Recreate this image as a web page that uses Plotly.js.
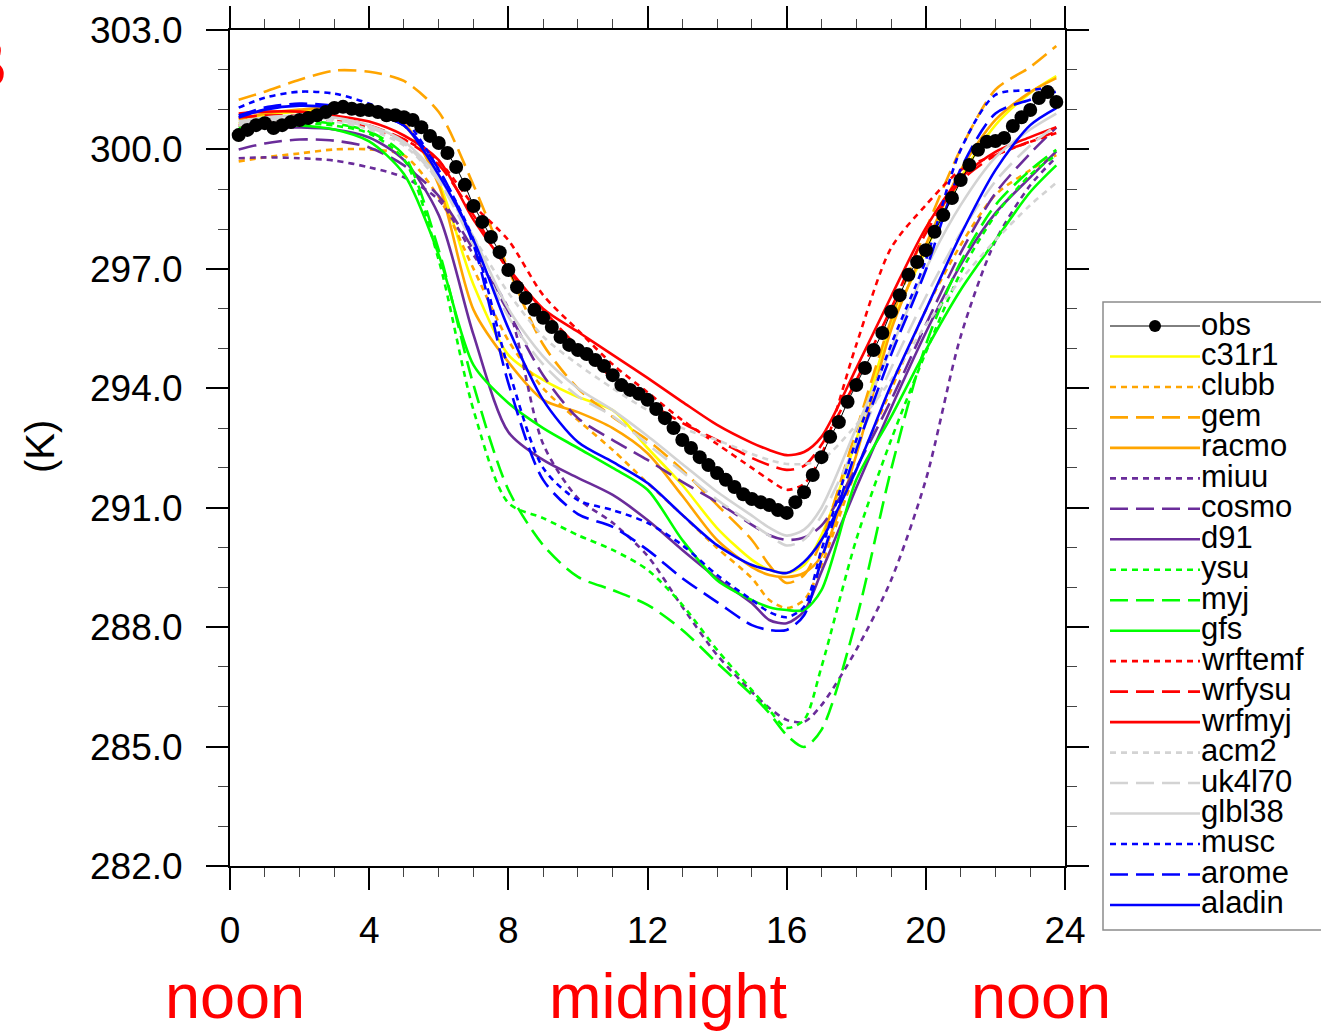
<!DOCTYPE html>
<html><head><meta charset="utf-8">
<script src="https://cdn.plot.ly/plotly-3.0.1.min.js"></script>
<style>html,body{margin:0;padding:0;background:#fff}</style>
</head><body>
<div id="chart" style="width:1321px;height:1031px"></div>
<script>
// ---------------- DATA ----------------
const modelHours = [0.25,1,2,3,4,5,6,7,8,9,10,11,12,13,14,15,15.5,16,16.5,17,18,19,20,21,22,23,23.75];

const c31r1  = [300.65,300.85,300.95,301.0,300.9,300.6,299.18,296.6,294.84,294.21,293.78,293.45,292.5,291.57,290.49,289.69,289.44,289.36,289.56,290.31,292.7,295.59,297.47,299.28,300.61,301.42,301.84];
const clubb  = [299.7,299.8,299.9,300.0,300.0,299.85,298.8,297.0,295.2,294.0,293.2,292.45,291.62,290.82,289.99,289.23,288.68,288.48,288.68,289.56,291.95,293.96,295.97,297.6,298.86,299.48,299.86];
const gem    = [301.25,301.45,301.75,301.98,301.95,301.72,300.94,299.1,297.0,295.1,294.0,293.28,292.7,291.95,291.07,290.19,289.56,289.11,289.31,290.19,292.95,295.72,297.98,300.0,301.5,302.07,302.6];
const racmo  = [300.75,300.9,301.0,301.05,300.95,300.65,299.1,295.97,294.66,293.71,293.4,293.0,292.37,291.3,290.19,289.51,289.31,289.26,289.36,289.79,292.32,295.46,297.6,299.48,300.74,301.44,301.79];
const miuu   = [299.78,299.8,299.78,299.72,299.55,299.3,298.73,297.35,296.0,292.6,291.24,290.62,289.79,288.51,287.3,286.37,285.97,285.67,285.62,286.04,287.43,289.18,291.7,295.3,297.7,299.1,299.8];
const cosmo  = [300.0,300.15,300.25,300.22,300.05,299.6,298.83,297.47,295.92,294.33,293.25,292.7,292.2,291.65,291.14,290.57,290.31,290.19,290.25,290.55,292.0,293.7,295.6,297.4,298.9,299.9,300.55];
const d91    = [300.45,300.55,300.55,300.5,300.3,299.73,298.35,295.34,292.9,292.2,291.75,291.32,290.69,289.94,289.23,288.6,288.18,288.1,288.4,289.39,291.5,293.5,295.4,297.1,298.4,299.3,299.95];
const ysu    = [300.5,300.6,300.65,300.6,300.4,299.75,297.22,293.45,291.12,290.74,290.31,289.94,289.44,288.56,287.43,286.42,285.92,285.47,285.67,287.0,290.2,292.7,294.9,296.9,298.35,299.36,299.86];
const myj    = [300.55,300.65,300.7,300.65,300.45,299.85,297.47,294.08,291.45,290.06,289.26,288.93,288.56,287.93,287.1,286.3,285.84,285.29,284.99,285.42,288.18,291.95,295.09,297.17,298.6,299.48,299.99];
const gfs    = [300.5,300.6,300.6,300.5,300.2,299.38,297.35,294.58,293.63,293.0,292.5,292.0,291.45,290.19,289.18,288.68,288.5,288.43,288.43,288.93,291.7,293.28,294.96,296.47,297.72,298.93,299.6];
const wrftemf= [300.6,300.7,300.75,300.72,300.55,300.25,299.7,298.6,297.72,296.34,295.46,294.6,293.9,293.2,292.6,292.0,291.7,291.45,291.6,292.32,295.09,297.52,298.6,299.48,299.86,300.19,300.41];
const wrfysu = [300.8,300.85,300.85,300.8,300.6,300.25,299.61,298.35,296.97,295.97,295.04,294.26,293.66,293.13,292.7,292.25,292.07,291.95,292.05,292.58,294.2,296.0,297.9,299.2,299.85,300.2,300.45];
const wrfmyj = [300.9,300.95,300.95,300.85,300.7,300.35,299.73,298.23,297.02,296.0,295.42,294.84,294.26,293.66,293.08,292.63,292.45,292.32,292.4,292.78,294.5,296.3,298.03,299.28,299.94,300.31,300.56];
const acm2   = [300.6,300.7,300.75,300.7,300.5,300.1,299.2,297.8,296.4,295.3,294.6,294.0,293.45,293.0,292.7,292.35,292.2,292.1,292.1,292.2,293.08,294.21,295.59,296.72,297.72,298.6,299.16];
const uk4l70 = [300.65,300.75,300.8,300.75,300.55,300.15,299.2,297.6,295.8,294.6,293.8,293.3,292.6,291.9,291.2,290.6,290.3,290.05,290.2,290.8,292.6,294.5,296.3,297.9,299.2,300.1,300.6];
const glbl38 = [300.7,300.8,300.85,300.8,300.6,300.2,299.3,297.8,296.0,294.8,294.0,293.45,292.8,292.1,291.4,290.8,290.5,290.3,290.45,291.0,293.0,295.0,297.0,298.6,299.8,300.5,300.9];
const musc   = [301.05,301.3,301.45,301.4,301.15,300.75,299.48,297.72,294.5,292.0,291.19,290.94,290.62,290.06,289.31,288.68,288.38,288.25,288.51,289.94,292.7,295.09,297.22,299.99,301.37,301.49,301.57];
const arome  = [300.85,301.05,301.15,301.1,300.95,300.6,299.5,297.6,294.13,291.7,290.84,290.52,289.94,289.23,288.63,288.05,287.93,287.93,288.3,289.69,292.45,294.84,296.97,299.5,300.9,301.25,301.45];
const aladin = [300.8,301.0,301.1,301.05,300.9,300.6,299.36,297.72,295.51,293.71,292.65,292.15,291.62,290.82,290.06,289.56,289.44,289.36,289.64,290.19,291.95,294.08,295.97,297.85,299.48,300.61,301.04];

const obsHours = [0.25,0.5,0.75,1,1.25,1.5,1.75,2,2.25,2.5,2.75,3,3.25,3.5,3.75,4,4.25,4.5,4.75,5,5.25,5.5,5.75,6,6.25,6.5,6.75,7,7.25,7.5,7.75,8,8.25,8.5,8.75,9,9.25,9.5,9.75,10,10.25,10.5,10.75,11,11.25,11.5,11.75,12,12.25,12.5,12.75,13,13.25,13.5,13.75,14,14.25,14.5,14.75,15,15.25,15.5,15.75,16,16.25,16.5,16.75,17,17.25,17.5,17.75,18,18.25,18.5,18.75,19,19.25,19.5,19.75,20,20.25,20.5,20.75,21,21.25,21.5,21.75,22,22.25,22.5,22.75,23,23.25,23.5,23.75];
const obsTemp = [300.36,300.49,300.61,300.66,300.54,300.61,300.69,300.74,300.79,300.86,300.94,301.04,301.07,301.02,300.99,300.99,300.94,300.86,300.86,300.81,300.74,300.56,300.34,300.16,299.91,299.56,299.11,298.58,298.18,297.8,297.42,296.97,296.54,296.27,295.97,295.77,295.54,295.29,295.09,294.96,294.86,294.71,294.56,294.33,294.08,293.96,293.86,293.71,293.48,293.25,293.0,292.7,292.5,292.27,292.07,291.87,291.7,291.52,291.34,291.22,291.14,291.07,290.94,290.87,291.14,291.39,291.82,292.27,292.78,293.15,293.66,294.08,294.51,294.96,295.39,295.92,296.34,296.85,297.17,297.47,297.93,298.35,298.78,299.23,299.61,299.99,300.19,300.21,300.29,300.59,300.81,300.99,301.29,301.44,301.19];

const seriesNames  = ['c31r1','clubb','gem','racmo','miuu','cosmo','d91','ysu','myj','gfs','wrftemf','wrfysu','wrfmyj','acm2','uk4l70','glbl38','musc','arome','aladin'];
const seriesValues = [c31r1,clubb,gem,racmo,miuu,cosmo,d91,ysu,myj,gfs,wrftemf,wrfysu,wrfmyj,acm2,uk4l70,glbl38,musc,arome,aladin];
const seriesColors = ['#FFFF00','#FFA500','#FFA500','#FFA500','#6A2C9A','#6A2C9A','#6A2C9A','#00FF00','#00FF00','#00FF00','#FF0000','#FF0000','#FF0000','#D3D3D3','#D3D3D3','#D3D3D3','#0000FF','#0000FF','#0000FF'];
const seriesStyle  = ['solid','dot','dash','solid','dot','dash','solid','dot','dash','solid','dot','dash','solid','dot','dash','solid','dot','dash','solid'];
const tickLabelsX = ['0','4','8','12','16','20','24'];
const periodLabels = ['noon','midnight','noon'];
const periodHours = [0.15, 12.6, 23.3];

// ---------------- STYLE ----------------
const DASH = {solid:'solid', dot:'6px,5px', dash:'18px,8px'};
const FONT = 'Liberation Sans, Arial, Helvetica, sans-serif';
const W = 1321, H = 1031, L = 230, R = 256, T = 30, B = 165;
const pw = W - L - R, ph = H - T - B;
const px2x = p => (p - L) / pw;
const py2y = p => 1 - (p - T) / ph;

const traces = seriesNames.map((n, i) => ({
  x: modelHours, y: seriesValues[i], name: n, mode: 'lines', type: 'scatter',
  line: {color: seriesColors[i], width: 2.6, dash: DASH[seriesStyle[i]], shape: 'spline', smoothing: 0.8},
  showlegend: false, hoverinfo: 'skip'
}));
traces.push({
  x: obsHours, y: obsTemp, name: 'obs', mode: 'lines+markers', type: 'scatter',
  line: {color: '#000', width: 1}, marker: {color: '#000', size: 14},
  showlegend: false, hoverinfo: 'skip'
});

// legend drawn manually (NCL-style compact legend)
const shapes = [];
const annotations = [];
shapes.push({type: 'rect', xref: 'paper', yref: 'paper', x0: px2x(1103), x1: px2x(1340), y0: py2y(930), y1: py2y(302),
  line: {color: '#8c8c8c', width: 1.5}, fillcolor: 'rgba(0,0,0,0)'});
const legNames = ['obs'].concat(seriesNames);
const rowY = i => 326 + i * 30.47;
legNames.forEach((n, i) => {
  const y = py2y(rowY(i));
  if (i === 0) {
    shapes.push({type: 'line', xref: 'paper', yref: 'paper', x0: px2x(1110), x1: px2x(1200), y0: y, y1: y, line: {color: '#000', width: 1}});
    shapes.push({type: 'circle', xref: 'paper', yref: 'paper', xsizemode: 'pixel', ysizemode: 'pixel',
      xanchor: px2x(1155), yanchor: y, x0: -6, x1: 6, y0: -6, y1: 6, fillcolor: '#000', line: {color: '#000', width: 0}});
  } else {
    const k = i - 1;
    shapes.push({type: 'line', xref: 'paper', yref: 'paper', x0: px2x(1110), x1: px2x(1200), y0: y, y1: y,
      line: {color: seriesColors[k], width: 2.6, dash: DASH[seriesStyle[k]]}});
  }
  annotations.push({xref: 'paper', yref: 'paper', x: px2x(1200), y: py2y(rowY(i) - 2), xanchor: 'left', yanchor: 'middle',
    text: n, showarrow: false, borderpad: 0, font: {family: FONT, size: 31, color: '#000'}});
});

// y-axis title and red period labels
annotations.push({xref: 'paper', yref: 'paper', x: px2x(40), y: py2y(447), xanchor: 'center', yanchor: 'middle',
  text: '(K)', textangle: -90, showarrow: false, font: {family: FONT, size: 40, color: '#000'}});
periodLabels.forEach((t, i) => {
  annotations.push({xref: 'x', yref: 'paper', x: periodHours[i], y: py2y(996), xanchor: 'center', yanchor: 'middle',
    text: t, showarrow: false, font: {family: FONT, size: 63, color: '#FF0000'}});
});
annotations.push({xref: 'paper', yref: 'paper', x: px2x(9), y: py2y(63), xanchor: 'right', yanchor: 'middle',
  text: '<b>B</b>', showarrow: false, font: {family: FONT, size: 72, color: '#FF0000'}});

const axisCommon = {
  showline: true, linecolor: '#000', linewidth: 2, mirror: 'ticks',
  ticks: 'outside', ticklen: 22, tickwidth: 2, tickcolor: '#000',
  showgrid: false, zeroline: false, fixedrange: true,
  tickfont: {family: FONT, size: 37, color: '#000'}
};

const layout = {
  width: W, height: H, margin: {l: L, r: R, t: T, b: B}, paper_bgcolor: '#fff', plot_bgcolor: '#fff',
  showlegend: false,
  xaxis: Object.assign({}, axisCommon, {range: [0, 24], tickmode: 'array', tickvals: tickLabelsX.map(Number), ticktext: tickLabelsX,
    ticklabelstandoff: 9,
    minor: {dtick: 1, tick0: 0, ticks: 'outside', ticklen: 9, tickwidth: 1, tickcolor: '#444'}}),
  yaxis: Object.assign({}, axisCommon, {range: [282, 303], tick0: 282, dtick: 3, tickformat: '.1f',
    ticklabelstandoff: 16,
    minor: {dtick: 1, tick0: 282, ticks: 'outside', ticklen: 10, tickwidth: 1, tickcolor: '#444'}}),
  shapes: shapes, annotations: annotations
};

Plotly.newPlot('chart', traces, layout, {staticPlot: true, displayModeBar: false});
</script>
</body></html>
